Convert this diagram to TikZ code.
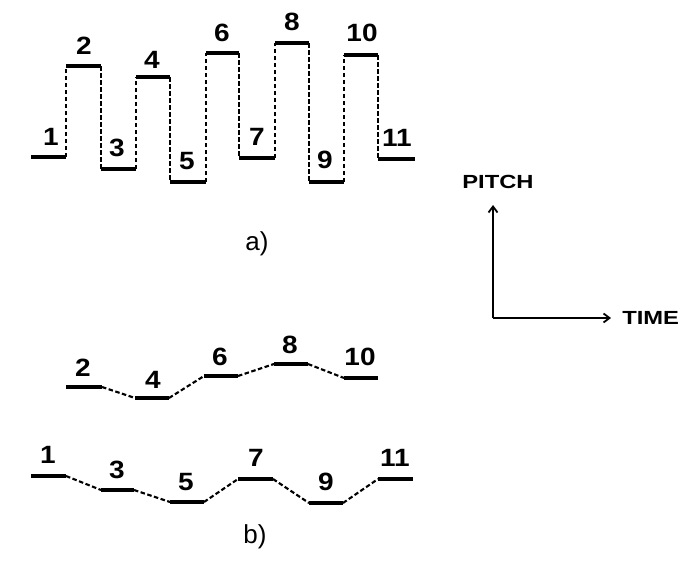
\documentclass[tikz,border=0pt]{standalone}
\usepackage{fontspec}
\setmainfont{Liberation Sans}
\usetikzlibrary{arrows.meta}
\begin{document}
\begin{tikzpicture}[x=1pt,y=-1pt,
  note/.style={line width=4.2pt},
  link/.style={line width=2.1pt,dash pattern=on 4.5pt off 2.5pt},
  num/.style={font=\fontsize{25}{25}\selectfont\bfseries,inner sep=0pt,xscale=1.12},
  axislabel/.style={font=\fontsize{19}{19}\selectfont\bfseries,inner sep=0pt,xscale=1.25},
  axis/.style={line width=1.8pt,-{Straight Barb[length=6pt,width=9pt,line width=1.8pt]}}]
\useasboundingbox (0,0) rectangle (687,560);
% ---------- part a ----------
\foreach \i/\xa/\xb/\y in {1/31/66/157, 2/66/101/66, 3/101/136/169, 4/136/170/77,
  5/170/206/182, 6/206/239/53, 7/239/275/158, 8/275/309/43, 9/309/344/182,
  10/344/378/55, 11/378/415/159}{
  \coordinate (as\i) at (\xa,\y);
  \coordinate (ae\i) at (\xb,\y);
}
\foreach \i in {1,...,11}{ \draw[note] (as\i) -- (ae\i); }
\foreach \i/\j in {1/2,2/3,3/4,4/5,5/6,6/7,7/8,8/9,9/10,10/11}{
  \draw[link] (ae\i) -- (as\j);
}
\foreach \t/\x/\y in {1/51/137, 2/84/46, 3/117/148, 4/152/60, 5/187/161, 6/222/33,
  7/257/137, 8/292/22, 9/325/160, 10/362/33, 11/397/138}{
  \node[num] (al\t) at (\x,\y) {\t};
}
\node[font=\fontsize{26}{26}\selectfont,inner sep=0pt] (alabel) at (257,244) {a)};
% ---------- part b, upper row ----------
\foreach \i/\xa/\xb/\y in {2/66/102/387, 4/135/169/398, 6/204/238/376, 8/274/308/364,
  10/344/378/378}{
  \coordinate (bs\i) at (\xa,\y);
  \coordinate (be\i) at (\xb,\y);
}
% ---------- part b, lower row ----------
\foreach \i/\xa/\xb/\y in {1/31/66/476, 3/101/134/490, 5/170/204/502, 7/238/273/479,
  9/309/343/503, 11/378/413/479}{
  \coordinate (bs\i) at (\xa,\y);
  \coordinate (be\i) at (\xb,\y);
}
\foreach \i in {1,...,11}{ \draw[note] (bs\i) -- (be\i); }
\foreach \i/\j in {2/4,4/6,6/8,8/10,1/3,3/5,5/7,7/9,9/11}{
  \draw[link] (be\i) -- (bs\j);
}
\foreach \t/\x/\y in {2/83/368, 4/153/380, 6/220/357, 8/290/345, 10/360/357,
  1/48/455, 3/117/470, 5/186/482, 7/256/458, 9/326/482, 11/395/458}{
  \node[num] (bl\t) at (\x,\y) {\t};
}
\node[font=\fontsize{26}{26}\selectfont,inner sep=0pt] (blabel) at (255,537) {b)};
% ---------- axes ----------
\coordinate (origin) at (493,318);
\coordinate (ptip) at (493,205);
\coordinate (ttip) at (611,318);
\draw[axis] (origin) -- (ptip);
\draw[axis] (origin) -- (ttip);
\node[axislabel] (pitch) at (498,182) {PITCH};
\node[axislabel,anchor=west] (time) at (622,318) {TIME};
\end{tikzpicture}
\end{document}
